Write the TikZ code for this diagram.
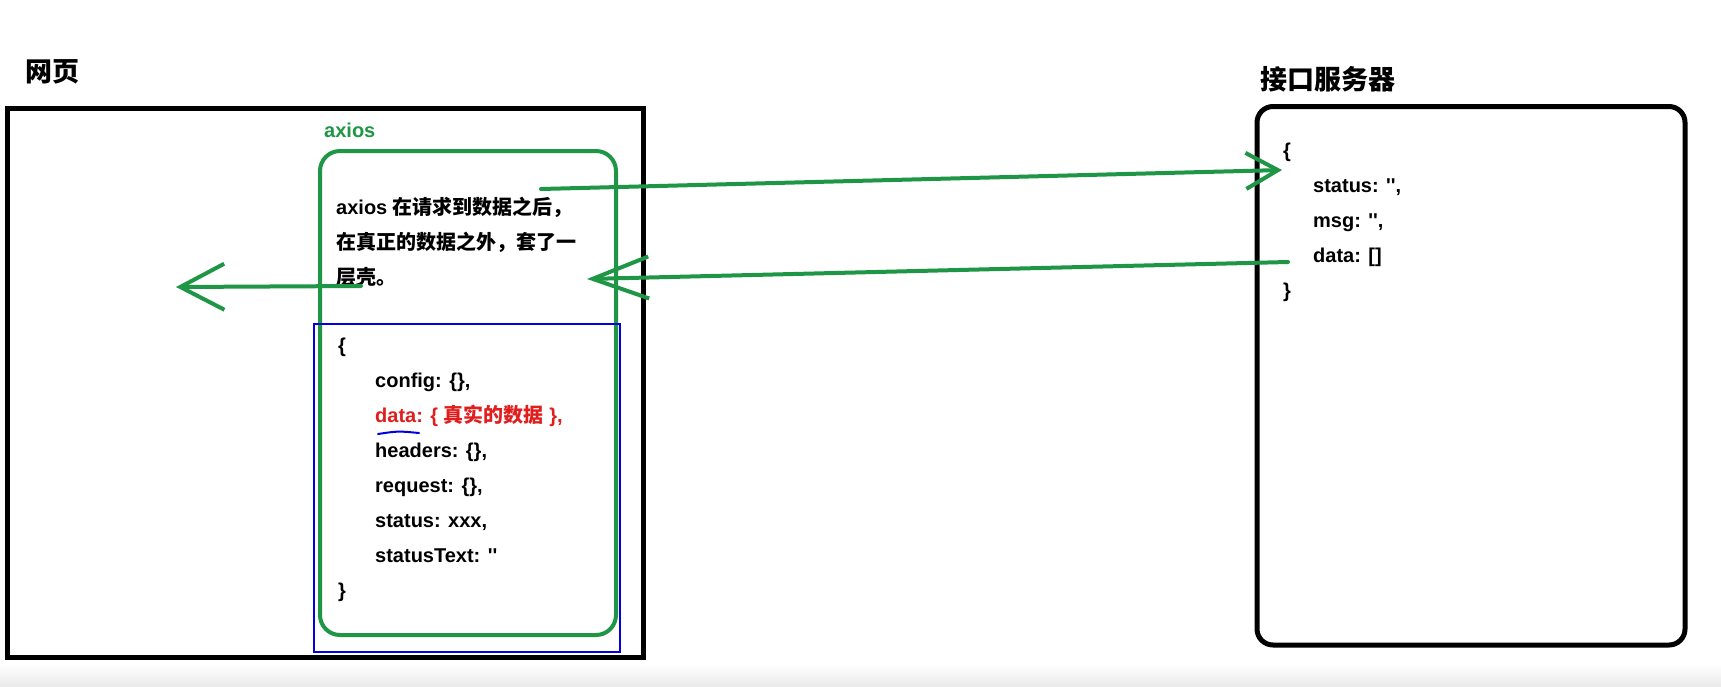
\documentclass[tikz,border=0pt]{standalone}
\usepackage{fontspec}
\setmainfont{Liberation Sans}
\newfontfamily\cjk{Noto Sans CJK SC}
\usetikzlibrary{arrows.meta, positioning}
\definecolor{axgreen}{RGB}{30, 150, 70}
\definecolor{datared}{RGB}{225, 30, 30}
\definecolor{wrapblue}{RGB}{0, 0, 225}
\newcommand{\qq}{\textquotesingle\textquotesingle}
\tikzset{
  codetext/.style={font=\fontsize{20}{35}\selectfont\bfseries, align=left, inner sep=0pt, anchor=west},
  headtext/.style={font=\fontsize{27}{30}\selectfont\bfseries\cjk, inner sep=0pt, anchor=west},
  frame/.style={draw, inner sep=0pt, line width=5pt},
  pipe/.style={draw=axgreen, line width=4pt, line cap=round, line join=round},
}

\begin{document}
\begin{tikzpicture}[x=1pt, y=-1pt]
  \useasboundingbox (0,0) rectangle (1721,686);
  \fill[white] (0,0) rectangle (1721,686);
  \shade[top color=white, bottom color=black!8] (0,664) rectangle (1721,686);

  % Web page
  \node[headtext] (pagetitle) at (25,72) {网页};
  \node[frame, minimum width=636pt, minimum height=549pt] (page) at (325,382.5) {};

  % axios wrapper
  \node[frame, draw=axgreen, line width=4pt, rounded corners=20pt, minimum width=296pt, minimum height=484pt] (axbox) at (468,393) {};
  \node[codetext, text=axgreen] (axlabel) at (324,130) {axios};
  \node[codetext] (wrapnote) at (336,242) {
    axios {\cjk 在请求到数据之后，}\\
    {\cjk 在真正的数据之外，套了一}\\
    {\cjk 层壳。}
  };

  % Response object
  \node[frame, draw=wrapblue, line width=2pt, minimum width=305.5pt, minimum height=328pt] (resbox) at (466.75,488) {};
  \node[codetext] (rescode) at (338,470) {
    \{\\
    \hspace*{37pt}config: \{\},\\
    \hspace*{37pt}\textcolor{datared}{data: \{ {\cjk 真实的数据} \},}\\
    \hspace*{37pt}headers: \{\},\\
    \hspace*{37pt}request: \{\},\\
    \hspace*{37pt}status: xxx,\\
    \hspace*{37pt}statusText: \qq\\
    \}
  };
  \draw[wrapblue, line width=2pt, line cap=round] (378,434) .. controls (398,431) .. (419,433);

  % API server
  \node[headtext] (srvtitle) at (1260,79) {接口服务器};
  \node[frame, rounded corners=16pt, minimum width=428pt, minimum height=538.5pt] (server) at (1471,375.75) {};
  \node[codetext] (srvcode) at (1283,222) {
    \{\\
    \hspace*{30pt}status: \qq,\\
    \hspace*{30pt}msg: \qq,\\
    \hspace*{30pt}data: []\\
    \}
  };

  % Arrows
  \coordinate (reqfrom) at (541,189);
  \coordinate (reqto) at (1282,170);
  \coordinate (resfrom) at (1288,262);
  \coordinate (resto) at (587,279);
  \coordinate (outfrom) at (361,286);
  \coordinate (outto) at (176,287);
  \draw[pipe, -{Straight Barb[length=32pt, width=36pt]}] (reqfrom) -- (reqto);
  \draw[pipe, -{Straight Barb[length=56pt, width=42pt]}] (resfrom) -- (resto);
  \draw[pipe, -{Straight Barb[length=44pt, width=46pt]}] (outfrom) -- (outto);
\end{tikzpicture}
\end{document}
